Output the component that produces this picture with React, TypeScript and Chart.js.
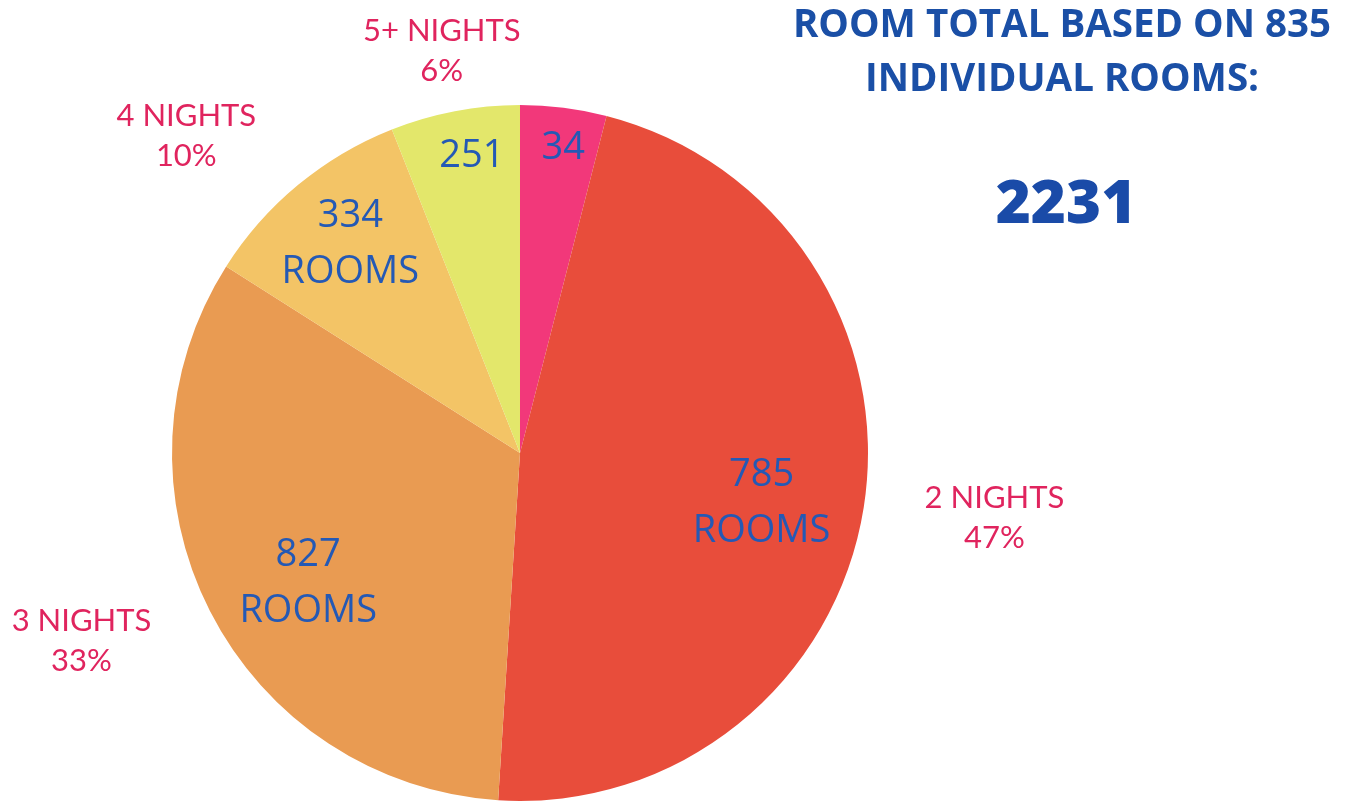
import React, { useEffect, useRef } from "react";
import { Chart, registerables } from "chart.js";

Chart.register(...registerables);

// ---- data ----
const categories = ["1 NIGHT", "2 NIGHTS", "3 NIGHTS", "4 NIGHTS", "5+ NIGHTS"];
const shares = [4, 47, 33, 10, 6];
const rooms = [34, 785, 827, 334, 251];
const showOuter = [false, true, true, true, true];
const showRoomsWord = [false, true, true, true, false];
const sliceColors = ["#F2387A", "#E84D3B", "#E99B52", "#F3C466", "#E3E76B"];
const titleLines = ["ROOM TOTAL BASED ON 835", "INDIVIDUAL ROOMS:"];
const totalRooms = 2231;

// label placement (angle shift in degrees, radius as fraction of pie radius)
const innerPlace: [number, number][] = [
  [0.8, 0.894],
  [2, 0.707],
  [-4, 0.71],
  [0.9, 0.78],
  [1.7, 0.874],
];
const outerPlace: [number, number][] = [
  [0, 1.2],
  [-1.2, 1.376],
  [3.8, 1.371],
  [-6.9, 1.322],
  [-0.2, 1.178],
];

const labelPlugin = {
  id: "sliceLabels",
  afterDatasetsDraw(chart: any) {
    const ctx = chart.ctx;
    const meta = chart.getDatasetMeta(0);
    ctx.save();
    ctx.textAlign = "center";
    ctx.textBaseline = "middle";
    meta.data.forEach((arc: any, i: number) => {
      const p = arc.getProps(["x", "y", "startAngle", "endAngle", "outerRadius"], true);
      const mid = (p.startAngle + p.endAngle) / 2;
      // inner label
      const [ia, ir] = innerPlace[i];
      const a1 = mid + (ia * Math.PI) / 180;
      const ix = p.x + Math.cos(a1) * p.outerRadius * ir;
      const iy = p.y + Math.sin(a1) * p.outerRadius * ir + 3;
      ctx.fillStyle = "#2459B5";
      ctx.font = "400 38px 'Open Sans'";
      if (showRoomsWord[i]) {
        ctx.fillText(String(rooms[i]), ix, iy - 28);
        ctx.fillText("ROOMS", ix, iy + 28);
      } else {
        ctx.fillText(String(rooms[i]), ix, iy);
      }
      // outer label
      if (showOuter[i]) {
        const [oa, or] = outerPlace[i];
        const a2 = mid + (oa * Math.PI) / 180;
        const ox = p.x + Math.cos(a2) * p.outerRadius * or;
        const oy = p.y + Math.sin(a2) * p.outerRadius * or;
        ctx.fillStyle = "#E0245E";
        ctx.font = "400 31px Lato";
        ctx.fillText(categories[i], ox, oy - 20);
        ctx.fillText(shares[i] + "%", ox, oy + 20);
      }
    });
    ctx.restore();
  },
};

export default function App() {
  const ref = useRef<HTMLCanvasElement>(null);
  useEffect(() => {
    if (!ref.current) return;
    const chart = new Chart(ref.current, {
      type: "pie",
      data: {
        labels: categories,
        datasets: [
          {
            data: shares,
            backgroundColor: sliceColors,
            borderWidth: 0,
          },
        ],
      },
      options: {
        responsive: false,
        animation: false,
        layout: { padding: { top: 105, bottom: 1, left: 172, right: 486 } },
        plugins: {
          legend: { display: false },
          tooltip: { enabled: false },
          title: { display: false },
        },
      },
      plugins: [labelPlugin],
    });
    return () => chart.destroy();
  }, []);

  return (
    <div style={{ position: "absolute", left: 0, top: 0, width: 1354, height: 802, background: "#fff", overflow: "hidden" }}>
      <canvas ref={ref} width={1354} height={802} style={{ position: "absolute", left: 0, top: 0 }} />
      <div
        style={{
          position: "absolute",
          left: 762,
          width: 600,
          top: -5,
          textAlign: "center",
          fontFamily: "'Open Sans', sans-serif",
          fontWeight: 700,
          fontSize: 38.5,
          lineHeight: "54px",
          color: "#1A4FA6",
          whiteSpace: "nowrap",
        }}
      >
        {titleLines.map((t) => (
          <div key={t}>{t}</div>
        ))}
      </div>
      <div
        style={{
          position: "absolute",
          left: 766,
          width: 600,
          top: 160,
          textAlign: "center",
          fontFamily: "'Open Sans', sans-serif",
          fontWeight: 800,
          fontSize: 60,
          lineHeight: "80px",
          color: "#1A4BA8",
        }}
      >
        {totalRooms}
      </div>
    </div>
  );
}
